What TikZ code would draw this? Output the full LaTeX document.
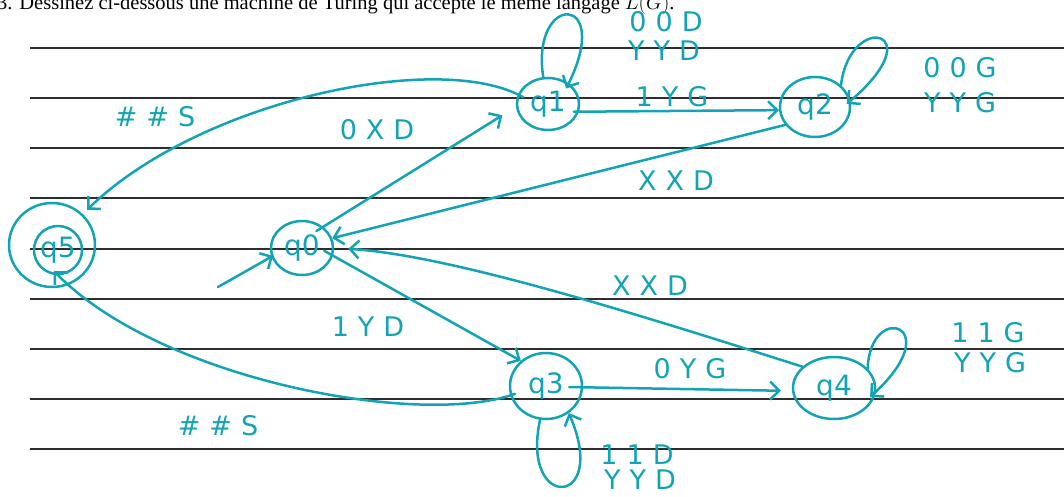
\documentclass[tikz,border=0pt]{standalone}
\usepackage{fontspec}
\setmainfont{Liberation Serif}
\newfontfamily\hand{DejaVu Sans}
\usetikzlibrary{arrows.meta,shapes.geometric}
\definecolor{ink}{RGB}{18,164,180}
\definecolor{rulec}{RGB}{45,45,45}
\newcommand{\tl}[3]{#1\hspace{9pt}#2\hspace{9pt}#3}
\begin{document}
\begin{tikzpicture}[x=1pt,y=-1pt,
  pen/.style={draw=ink,line width=2.5pt,line cap=round,line join=round},
  arr/.style={pen,-{Straight Barb[length=9pt,width=18pt]}},
  state/.style={pen,ellipse,inner sep=0pt,text=ink,font=\hand\fontsize{28}{28}\selectfont},
  lbl/.style={text=ink,font=\hand\fontsize{27}{27}\selectfont,inner sep=0pt},
  ruling/.style={draw=rulec,line width=1.3pt}]
\useasboundingbox (0,0) rectangle (1064,497);
\fill[white] (0,0) rectangle (1064,497);
\foreach \yy in {48,98,148,198,249,299,349,399,449} \draw[ruling] (30,\yy) -- (1064,\yy);
\node[anchor=base west,inner sep=0pt,font=\fontsize{20.5}{20.5}\selectfont] (title) at (-3,10) {3. Dessinez ci-dessous une machine de Turing qui accepte le même langage $L(G)$.};
% states
\node[state,minimum width=62pt,minimum height=54pt] (q0) at (302,248) {q0};
\node[state,minimum width=62pt,minimum height=52pt] (q1) at (548,104) {q1};
\node[state,minimum width=70pt,minimum height=60pt] (q2) at (815,107) {q2};
\node[state,minimum width=72pt,minimum height=66pt] (q3) at (546,386) {q3};
\node[state,minimum width=82pt,minimum height=62pt] (q4) at (834,388) {q4};
\node[state,circle,minimum size=48pt] (q5) at (58,250) {q5};
\draw[pen] (52,245) ellipse [x radius=43, y radius=42];
% start arrow
\coordinate (s0) at (218,287);
\draw[arr,shorten >=-2pt] (s0) -- (q0.196);
% transitions
\draw[arr,shorten <=-8pt,shorten >=16pt] (q0.45) -- (q1.185);
\draw[arr] (q2.211) -- (q0.18);
\draw[arr,shorten <=-5pt] (q1.-14) -- (q2.185);
\draw[arr,shorten >=14pt] (q4.146) .. controls (640,315) and (450,255) .. (q0.0);
\draw[arr,shorten <=-10pt] (q0.-14) -- (q3.135);
\draw[arr,shorten <=-14pt,shorten >=11pt] (q3.-2) -- (q4.184);
\draw[arr,shorten <=-5pt,shorten >=-6pt] (q3.195) .. controls (420,428) and (160,380) .. (q5.south);
\draw[arr,shorten <=-6pt,shorten >=25pt] (q1.162) .. controls (440,50) and (200,100) .. (q5.64);
% loops
\draw[arr,shorten >=-6pt] (q1.100) .. controls (530,-8) and (615,-8) .. (q1.45);
\draw[arr,shorten >=-5pt] (q2.40) .. controls (850,10) and (935,30) .. (q2.10);
\draw[arr,shorten >=-8pt] (q4.30) .. controls (870,300) and (950,325) .. (q4.-5);
\draw[arr] (q3.260) .. controls (520,512) and (610,508) .. (q3.-50);
% labels
\node[lbl] (l1a) at (666,22) {\tl{0}{0}{D}};
\node[lbl] (l1b) at (664,51) {\tl{Y}{Y}{D}};
\node[lbl] (l12) at (672,97) {\tl{1}{Y}{G}};
\node[lbl] (l2a) at (960,68) {\tl{0}{0}{G}};
\node[lbl] (l2b) at (960,103) {\tl{Y}{Y}{G}};
\node[lbl] (l01) at (377,130) {\tl{0}{X}{D}};
\node[lbl] (l15) at (155,117) {\tl{\#}{\#}{S}};
\node[lbl] (l20) at (676,181) {\tl{X}{X}{D}};
\node[lbl] (l40) at (650,286) {\tl{X}{X}{D}};
\node[lbl] (l03) at (368,327) {\tl{1}{Y}{D}};
\node[lbl] (l34) at (690,369) {\tl{0}{Y}{G}};
\node[lbl] (l4a) at (988,333) {\tl{1}{1}{G}};
\node[lbl] (l4b) at (990,363) {\tl{Y}{Y}{G}};
\node[lbl] (l35) at (218,426) {\tl{\#}{\#}{S}};
\node[lbl] (l3a) at (637,455) {\tl{1}{1}{D}};
\node[lbl] (l3b) at (640,480) {\tl{Y}{Y}{D}};
\end{tikzpicture}
\end{document}
